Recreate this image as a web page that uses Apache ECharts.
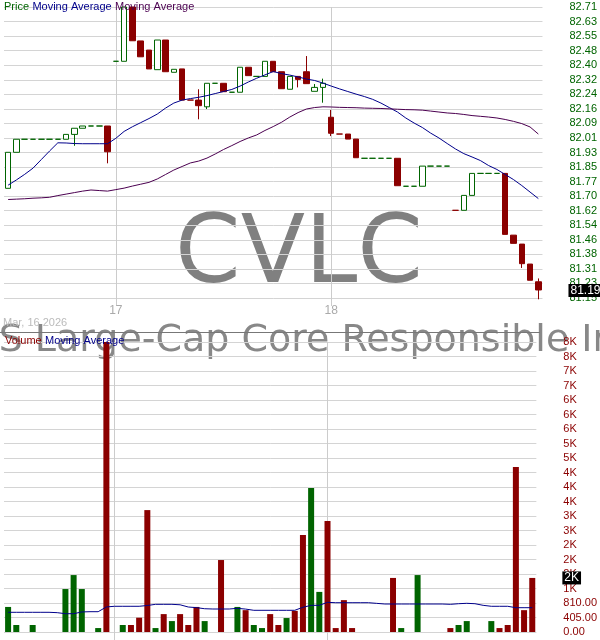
<!DOCTYPE html>
<html>
<head>
<meta charset="utf-8">
<script src="https://cdn.jsdelivr.net/npm/echarts@6/dist/echarts.min.js"></script>
<style>
  html, body { margin: 0; padding: 0; background: #fff; }
  #chart { width: 600px; height: 640px; }
</style>
</head>
<body>
<div id="chart"></div>
<script>
// 15분봉 세션 시간
const sessionTimes = [
  "09:30", "09:45", "10:00", "10:15", "10:30", "10:45", "11:00", "11:15", "11:30",
  "11:45", "12:00", "12:15", "12:30", "12:45", "13:00", "13:15", "13:30", "13:45",
  "14:00", "14:15", "14:30", "14:45", "15:00", "15:15", "15:30", "15:45",
];

// 3/16 오후 + 3/17 + 3/18
const categories = [];
sessionTimes.slice(13).forEach((t) => categories.push("16 " + t));
sessionTimes.forEach((t) => categories.push("17 " + t));
sessionTimes.forEach((t) => categories.push("18 " + t));

const open = [
  81.738, 81.931, 82.001, 82.001, 82.001, 82.001, 82.001, 82.001, 82.027, 82.060,
  82.072, 82.072, 82.072, 82.419, 82.419, 82.710, 82.528, 82.479, 82.374, 82.533,
  82.360, 82.378, 82.211, 82.211, 82.175, 82.301, 82.301, 82.253, 82.253, 82.387,
  82.338, 82.338, 82.419, 82.363, 82.269, 82.338, 82.363, 82.258, 82.279, 82.119,
  82.029, 82.029, 82.002, 81.899, 81.899, 81.899, 81.899, 81.899, 81.749, 81.749,
  81.749, 81.857, 81.857, 81.857, 81.620, 81.620, 81.700, 81.818, 81.818, 81.818,
  81.818, 81.487, 81.439, 81.332, 81.237,
];
const close = [
  81.931, 82.001, 82.001, 82.001, 82.001, 82.001, 82.001, 82.027, 82.060, 82.072,
  82.072, 82.072, 81.934, 82.419, 82.710, 82.529, 82.443, 82.378, 82.533, 82.363,
  82.376, 82.211, 82.211, 82.181, 82.301, 82.301, 82.256, 82.253, 82.387, 82.342,
  82.338, 82.419, 82.363, 82.272, 82.338, 82.322, 82.299, 82.279, 82.301, 82.033,
  82.029, 82.002, 81.902, 81.899, 81.899, 81.899, 81.899, 81.752, 81.749, 81.749,
  81.857, 81.857, 81.857, 81.857, 81.620, 81.700, 81.818, 81.818, 81.818, 81.818,
  81.491, 81.443, 81.334, 81.245, 81.193,
];
const high = [
  81.931, 82.001, 82.001, 82.001, 82.001, 82.001, 82.001, 82.027, 82.060, 82.072,
  82.072, 82.072, 82.072, 82.419, 82.710, 82.710, 82.528, 82.479, 82.533, 82.533,
  82.376, 82.378, 82.211, 82.269, 82.301, 82.301, 82.301, 82.253, 82.387, 82.387,
  82.338, 82.419, 82.419, 82.363, 82.338, 82.338, 82.447, 82.297, 82.326, 82.158,
  82.029, 82.029, 82.002, 81.899, 81.899, 81.899, 81.899, 81.899, 81.749, 81.749,
  81.857, 81.857, 81.857, 81.857, 81.620, 81.700, 81.818, 81.818, 81.818, 81.818,
  81.818, 81.487, 81.439, 81.332, 81.255,
];
const low = [
  81.738, 81.931, 82.001, 82.001, 82.001, 82.001, 82.001, 82.001, 81.966, 82.060,
  82.072, 82.072, 81.872, 82.419, 82.419, 82.529, 82.443, 82.378, 82.374, 82.363,
  82.360, 82.211, 82.211, 82.108, 82.163, 82.301, 82.256, 82.253, 82.253, 82.342,
  82.338, 82.338, 82.363, 82.272, 82.269, 82.279, 82.299, 82.258, 82.197, 82.018,
  82.029, 82.002, 81.902, 81.899, 81.899, 81.899, 81.899, 81.752, 81.749, 81.749,
  81.749, 81.857, 81.857, 81.857, 81.620, 81.620, 81.700, 81.818, 81.818, 81.818,
  81.491, 81.443, 81.311, 81.245, 81.143,
];
// u = 상승(초록), d = 하락(빨강)
const dir = (
  "uuuuuuuuuuuu" + "d" + "uu" + "ddd" + "u" + "d" + "u" + "ddd" + "uu" + "d" +
  "uu" + "d" + "uu" + "dd" + "u" + "dd" + "uu" + "dddd" + "uuuu" + "d" +
  "uuuuuu" + "d" + "uuuuu" + "ddddd"
).split("");

const maShort = [
  81.755, 81.783, 81.813, 81.846, 81.892, 81.938, 81.982, 81.981, 81.978, 81.977,
  81.977, 81.977, 81.977, 82.006, 82.043, 82.068, 82.090, 82.112, 82.136, 82.168,
  82.195, 82.211, 82.219, 82.226, 82.235, 82.246, 82.257, 82.268, 82.286, 82.308,
  82.328, 82.346, 82.364, 82.353, 82.345, 82.335, 82.324, 82.316, 82.302, 82.286,
  82.271, 82.257, 82.243, 82.230, 82.215, 82.195, 82.171, 82.147, 82.115, 82.088,
  82.064, 82.034, 82.008, 81.978, 81.949, 81.924, 81.906, 81.887, 81.860, 81.839,
  81.812, 81.785, 81.753, 81.718, 81.683,
];
const maLong = [
  81.678, 81.680, 81.682, 81.685, 81.687, 81.690, 81.699, 81.707, 81.715, 81.723,
  81.729, 81.726, 81.723, 81.731, 81.739, 81.750, 81.760, 81.770, 81.788, 81.812,
  81.836, 81.855, 81.874, 81.884, 81.900, 81.922, 81.946, 81.967, 81.989, 82.008,
  82.024, 82.048, 82.069, 82.092, 82.120, 82.144, 82.163, 82.171, 82.175, 82.174,
  82.172, 82.171, 82.170, 82.168, 82.167, 82.166, 82.164, 82.162, 82.160, 82.159,
  82.157, 82.152, 82.147, 82.142, 82.139, 82.134, 82.128, 82.124, 82.120, 82.115,
  82.107, 82.097, 82.085, 82.067, 82.029,
];

const volume = [
  700, 195, 0, 195, 0, 0, 0, 1200, 1590, 1200,
  0, 110, 8100, 0, 195, 195, 400, 3405, 110, 500,
  305, 500, 195, 700, 305, 0, 2010, 0, 700, 610,
  195, 110, 500, 195, 390, 590, 2710, 4020, 1120, 3100,
  110, 890, 110, 0, 0, 0, 0, 1510, 110, 0,
  1590, 0, 0, 0, 110, 195, 305, 0, 0, 305,
  110, 195, 4610, 610, 1510,
];
const volumeMa = [
  550, 550, 550, 550, 550, 550, 540, 511, 511, 560,
  567, 567, 700, 718, 718, 718, 718, 740, 773, 773,
  773, 760, 698, 680, 650, 642, 642, 642, 661, 640,
  606, 606, 606, 606, 606, 606, 690, 745, 745, 829,
  818, 818, 818, 818, 818, 800, 782, 782, 782, 782,
  782, 782, 782, 782, 773, 790, 801, 790, 745, 718,
  718, 718, 679, 679, 679,
];

// 축 눈금
const priceMin = 81.15;
const priceMax = 82.71;
const priceStep = 0.078;
const volMax = 8100;
const volStep = 405;

const GREEN = "#006400";
const RED = "#8B0000";
const NAVY = "#00008B";
const PURPLE = "#4B0050";
const FONT = "'Liberation Sans', Arial, sans-serif";

const isDayStart = (index, value) => value.endsWith("09:30");
const dayLines = categories.filter((c) => c.endsWith("09:30")).map((c) => ({ xAxis: c }));

function fmtVol(v) {
  return v >= 1000 ? Math.round(v / 1000) + "K" : v.toFixed(2);
}

const upStyle = { color: "#ffffff", color0: "#ffffff", borderColor: GREEN, borderColor0: GREEN, borderWidth: 1 };
const downStyle = { color: RED, color0: RED, borderColor: RED, borderColor0: RED, borderWidth: 1 };

const candleData = categories.map((c, i) => ({
  value: [open[i], close[i], low[i], high[i]],
  itemStyle: dir[i] === "u" ? upStyle : downStyle,
}));
const volumeData = categories.map((c, i) => ({
  value: volume[i],
  itemStyle: { color: dir[i] === "u" ? GREEN : RED },
}));

const boxLabel = {
  show: true,
  position: "end",
  distance: 26,
  backgroundColor: "#000",
  color: "#fff",
  fontFamily: FONT,
  fontSize: 12,
  padding: [1, 2, 0, 2],
};
const dayLineStyle = { color: "#cccccc", type: "solid", width: 1 };

const chart = echarts.init(document.getElementById("chart"));

const option = {
  animation: false,
  backgroundColor: "#fff",
  grid: [
    { left: 4, right: 57, top: 7, height: 291 },
    { left: 4, right: 57, top: 342, height: 290 },
  ],
  xAxis: [
    {
      type: "category",
      gridIndex: 0,
      data: categories,
      axisLine: { show: false },
      axisTick: { show: true, alignWithLabel: true, interval: isDayStart, length: 8, lineStyle: { color: "#cccccc" } },
      axisLabel: {
        interval: isDayStart,
        formatter: (v) => v.split(" ")[0],
        color: "#aaaaaa",
        fontFamily: FONT,
        fontSize: 12,
        margin: 7,
      },
      splitLine: { show: false },
    },
    {
      type: "category",
      gridIndex: 1,
      data: categories,
      axisLine: { show: false },
      axisTick: { show: true, alignWithLabel: true, interval: isDayStart, length: 8, lineStyle: { color: "#cccccc" } },
      axisLabel: { show: false },
      splitLine: { show: false },
    },
  ],
  yAxis: [
    {
      type: "value",
      gridIndex: 0,
      position: "right",
      min: priceMin,
      max: priceMax,
      interval: priceStep,
      axisLine: { show: false },
      axisTick: { show: false },
      axisLabel: {
        color: GREEN,
        fontFamily: FONT,
        fontSize: 11,
        margin: 27,
        showMinLabel: true,
        showMaxLabel: true,
        formatter: (v) => v.toFixed(2),
      },
      splitLine: { lineStyle: { color: "#d4d4d4" } },
    },
    {
      type: "value",
      gridIndex: 1,
      position: "right",
      min: 0,
      max: volMax,
      interval: volStep,
      axisLine: { show: false },
      axisTick: { show: false },
      axisLabel: {
        color: RED,
        fontFamily: FONT,
        fontSize: 11,
        margin: 27,
        showMinLabel: true,
        showMaxLabel: true,
        formatter: fmtVol,
      },
      splitLine: { lineStyle: { color: "#d4d4d4" } },
    },
  ],
  series: [
    {
      name: "Price",
      type: "candlestick",
      xAxisIndex: 0,
      yAxisIndex: 0,
      barWidth: 6,
      data: candleData,
      markLine: {
        z: 1,
        silent: true,
        symbol: "none",
        animation: false,
        data: [
          ...dayLines.map((d) => ({ ...d, lineStyle: dayLineStyle, label: { show: false } })),
          {
            yAxis: close[close.length - 1],
            lineStyle: { color: "transparent", width: 0 },
            label: { ...boxLabel, formatter: (p) => Number(p.value).toFixed(2) },
          },
        ],
      },
    },
    {
      name: "Moving Average",
      type: "line",
      xAxisIndex: 0,
      yAxisIndex: 0,
      showSymbol: false,
      symbol: "none",
      data: maShort,
      lineStyle: { color: NAVY, width: 1 },
      z: 3,
    },
    {
      name: "Moving Average 2",
      type: "line",
      xAxisIndex: 0,
      yAxisIndex: 0,
      showSymbol: false,
      symbol: "none",
      data: maLong,
      lineStyle: { color: PURPLE, width: 1 },
      z: 3,
    },
    {
      name: "Volume",
      type: "bar",
      xAxisIndex: 1,
      yAxisIndex: 1,
      barWidth: 6,
      data: volumeData,
      markLine: {
        z: 1,
        silent: true,
        symbol: "none",
        animation: false,
        data: [
          ...dayLines.map((d) => ({ ...d, lineStyle: dayLineStyle, label: { show: false } })),
          {
            yAxis: volume[volume.length - 1],
            lineStyle: { color: "transparent", width: 0 },
            label: { ...boxLabel, formatter: (p) => fmtVol(Number(p.value)) },
          },
        ],
      },
    },
    {
      name: "Volume Moving Average",
      type: "line",
      xAxisIndex: 1,
      yAxisIndex: 1,
      showSymbol: false,
      symbol: "none",
      data: volumeMa,
      lineStyle: { color: NAVY, width: 1 },
      z: 3,
    },
  ],
  graphic: [
    {
      type: "text",
      x: 299,
      y: 258,
      z: -1,
      silent: true,
      style: {
        text: "CVLC",
        fontFamily: "DejaVu Sans",
        fontSize: 94,
        fill: "#808080",
        align: "center",
        verticalAlign: "middle",
      },
    },
    {
      type: "text",
      x: -178,
      y: 341,
      z: -1,
      silent: true,
      style: {
        text: "Calvert US Large-Cap Core Responsible Index ETF",
        fontFamily: "DejaVu Sans",
        fontSize: 38,
        fill: "#888888",
        align: "left",
        verticalAlign: "middle",
      },
    },
    {
      type: "line",
      z: 5,
      silent: true,
      shape: { x1: 0, y1: 332.5, x2: 540, y2: 332.5 },
      style: { stroke: "#777777", lineWidth: 1 },
    },
    {
      type: "text",
      x: 3,
      y: 323,
      z: 5,
      silent: true,
      style: { text: "Mar, 16 2026", fontFamily: FONT, fontSize: 11, fill: "#bbbbbb", verticalAlign: "middle" },
    },
    {
      type: "text",
      x: 4,
      y: 7,
      z: 10,
      silent: true,
      style: {
        text: "{g|Price} {n|Moving Average} {p|Moving Average}",
        verticalAlign: "middle",
        rich: {
          g: { fill: GREEN, fontFamily: FONT, fontSize: 11 },
          n: { fill: NAVY, fontFamily: FONT, fontSize: 11 },
          p: { fill: PURPLE, fontFamily: FONT, fontSize: 11 },
        },
      },
    },
    {
      type: "text",
      x: 5,
      y: 341,
      z: 10,
      silent: true,
      style: {
        text: "{r|Volume} {n|Moving Average}",
        verticalAlign: "middle",
        rich: {
          r: { fill: RED, fontFamily: FONT, fontSize: 11 },
          n: { fill: NAVY, fontFamily: FONT, fontSize: 11 },
        },
      },
    },
  ],
};

chart.setOption(option);
</script>
</body>
</html>
